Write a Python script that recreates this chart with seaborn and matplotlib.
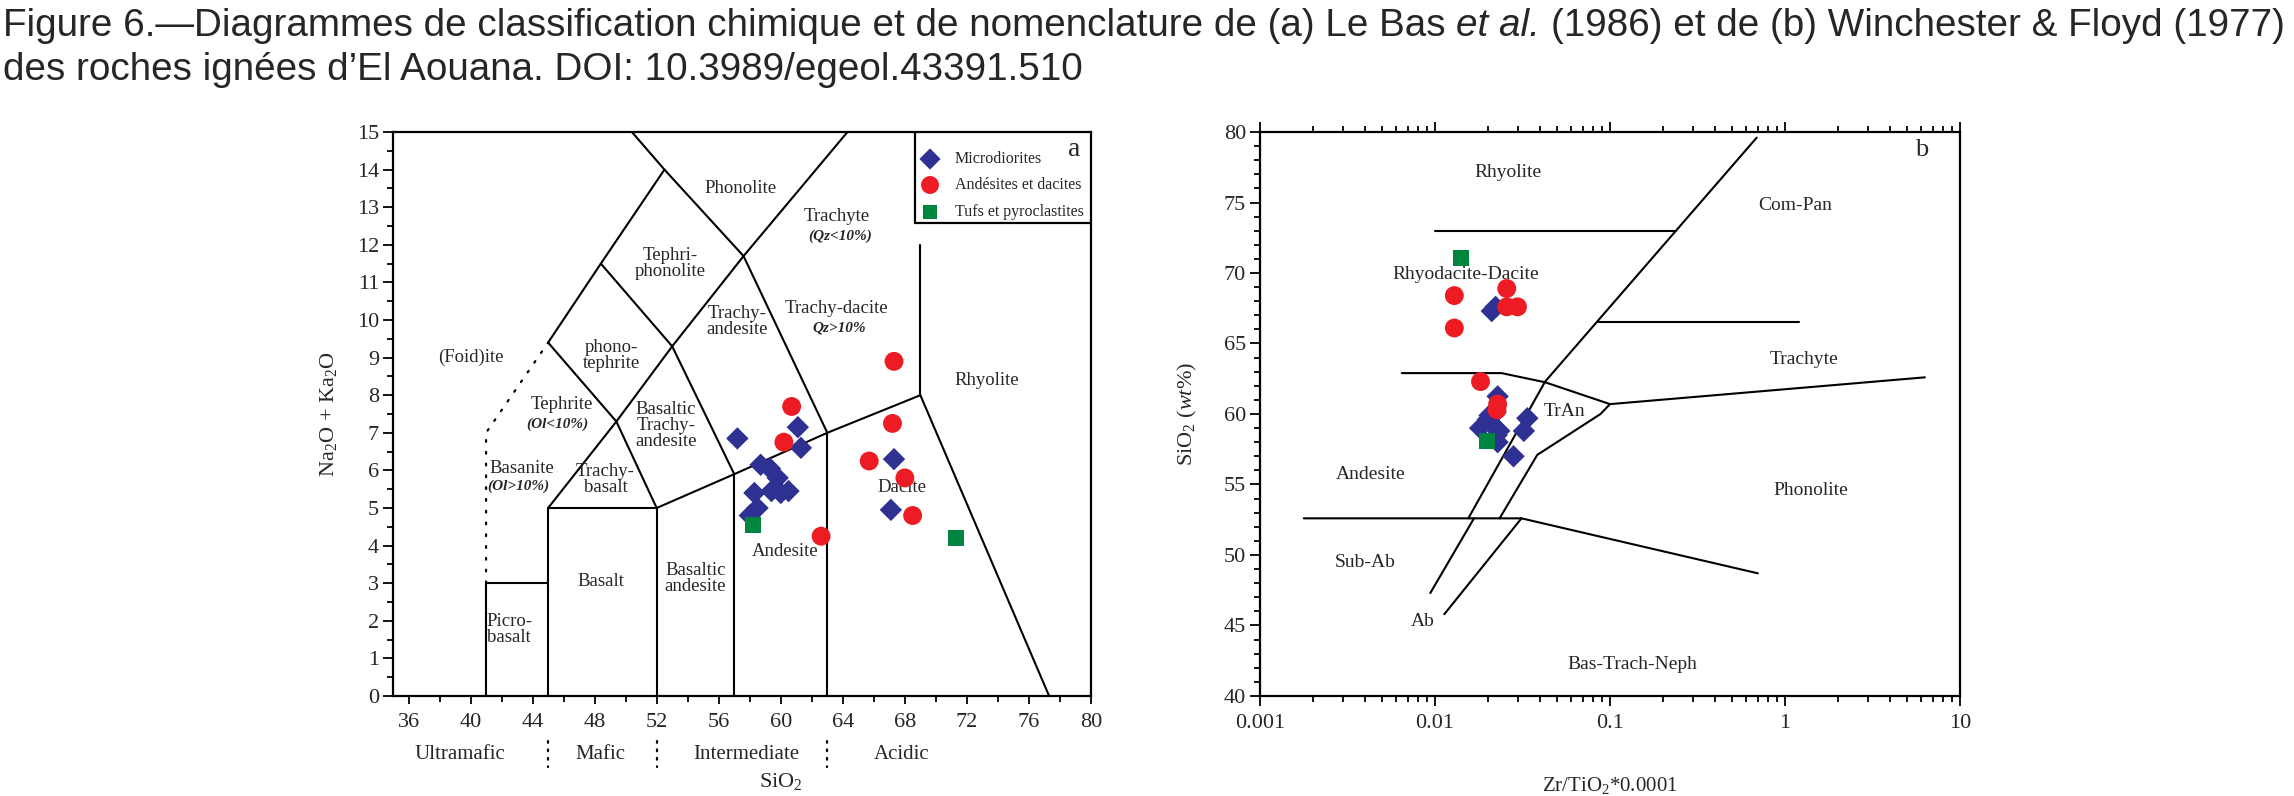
import matplotlib
matplotlib.use('Agg')
import matplotlib.pyplot as plt
import matplotlib.transforms as mtransforms
from matplotlib.ticker import MultipleLocator, FixedLocator, FixedFormatter, NullFormatter
from matplotlib.patches import Rectangle
import seaborn as sns

# ---- données (a) : diagramme TAS, Le Bas et al. (1986)
tas_micro_sio2 = [57.2, 61.1, 61.3, 58.7, 59.3, 59.8, 59.4, 60.0, 60.5, 58.5, 58.0, 58.3, 67.3, 67.1]
tas_micro_alk = [6.85, 7.15, 6.6, 6.15, 6.05, 5.8, 5.45, 5.4, 5.45, 5.0, 4.8, 5.4, 6.3, 4.95]
tas_andes_sio2 = [60.7, 60.2, 67.3, 67.2, 65.7, 68.0, 68.5, 62.6]
tas_andes_alk = [7.7, 6.75, 8.9, 7.25, 6.25, 5.8, 4.8, 4.25]
tas_tufs_sio2 = [58.2, 71.3]
tas_tufs_alk = [4.55, 4.2]

# ---- données (b) : Winchester & Floyd (1977)
wf_micro_zr = [0.0211, 0.0222, 0.0228, 0.0200, 0.0222, 0.0181, 0.0233, 0.0228, 0.0281, 0.0337, 0.0322, 0.0205, 0.0215, 0.0225]
wf_micro_si = [67.3, 67.6, 61.25, 59.6, 60.1, 59.0, 58.8, 58.0, 57.0, 59.7, 58.8, 59.9, 59.2, 58.5]
wf_andes_zr = [0.0129, 0.0129, 0.0257, 0.0257, 0.0296, 0.0182, 0.0228, 0.0226]
wf_andes_si = [68.4, 66.1, 68.9, 67.6, 67.6, 62.3, 60.7, 60.3]
wf_tufs_zr = [0.0141, 0.0198]
wf_tufs_si = [71.05, 58.1]

groupes = ['Microdiorites', 'Andésites et dacites', 'Tufs et pyroclastites']
couleurs = ['#2e3192', '#ed1c24', '#00853f']
marqueurs = ['D', 'o', 's']
tailles = [130, 185, 125]

# limites des champs TAS
tas_lignes = [
    [(41, 0), (41, 3), (45, 3)],
    [(45, 0), (45, 5), (52, 5), (52, 0)],
    [(52, 5), (57, 5.9), (63, 7), (69, 8), (77.3, 0)],
    [(57, 0), (57, 5.9)],
    [(63, 0), (63, 7)],
    [(69, 8), (69, 12)],
    [(45, 5), (49.4, 7.3), (53, 9.3), (57.6, 11.7), (64.3, 15)],
    [(45, 9.4), (49.4, 7.3), (52, 5)],
    [(48.4, 11.5), (53, 9.3), (57, 5.9)],
    [(50.4, 15), (52.5, 14), (57.6, 11.7), (63, 7)],
    [(45, 9.4), (48.4, 11.5), (52.5, 14)],
]
tas_pointilles = [(41, 3), (41, 7), (45, 9.4)]

tas_noms = [
    ('(Foid)ite', 40.0, 9.0), ('Tephrite', 45.9, 7.75), ('Basanite', 43.3, 6.05),
    ('phono-\ntephrite', 49.1, 9.05), ('Tephri-\nphonolite', 52.9, 11.5),
    ('Phonolite', 57.4, 13.5), ('Trachy-\nandesite', 57.2, 9.95),
    ('Basaltic\nTrachy-\nandesite', 52.6, 7.2), ('Trachy-\nbasalt', 48.7, 5.75),
    ('Basalt', 48.4, 3.05), ('Picro-\nbasalt', 42.5, 1.77), ('Basaltic\nandesite', 54.5, 3.12),
    ('Andesite', 60.3, 3.85), ('Dacite', 67.8, 5.55), ('Trachyte', 63.6, 12.75),
    ('Trachy-dacite', 63.6, 10.3), ('Rhyolite', 73.3, 8.4),
]
tas_notes = [('(Ol<10%)', 45.6, 7.22), ('(Ol>10%)', 43.1, 5.58),
             ('(Qz<10%)', 63.8, 12.22), ('Qz>10%', 63.8, 9.78)]

classes = [('Ultramafic', 39.3), ('Mafic', 48.4), ('Intermediate', 57.8), ('Acidic', 67.8)]
coupures = [45, 52, 63]

wf_lignes = [
    [(0.01, 73.0), (0.238, 73.0)],
    [(0.0155, 52.6), (0.0426, 62.3), (0.689, 79.6)],
    [(0.0167, 52.6), (0.0094, 47.3)],
    [(0.0234, 52.6), (0.0384, 57.1), (0.0883, 60.0), (0.1, 60.7)],
    [(0.0312, 52.6), (0.0113, 45.8)],
    [(0.084, 66.5), (1.2, 66.5)],
    [(0.00646, 62.9), (0.024, 62.9), (0.0426, 62.25), (0.1, 60.7), (6.3, 62.6)],
    [(0.00178, 52.6), (0.0312, 52.6), (0.7, 48.7)],
]
wf_noms = [
    ('Rhyolite', 0.026, 77.1, 'center'), ('Rhyodacite-Dacite', 0.015, 69.9, 'center'),
    ('Com-Pan', 0.70, 74.8, 'left'), ('Trachyte', 0.82, 63.9, 'left'),
    ('TrAn', 0.055, 60.2, 'center'), ('Andesite', 0.0043, 55.7, 'center'),
    ('Sub-Ab', 0.004, 49.45, 'center'), ('Ab', 0.0085, 45.3, 'center'),
    ('Phonolite', 1.4, 54.6, 'center'), ('Bas-Trach-Neph', 0.134, 42.2, 'center'),
]

sns.set_style('ticks')
plt.rcParams['font.family'] = ['Liberation Serif', 'DejaVu Serif']
plt.rcParams['mathtext.fontset'] = 'custom'
plt.rcParams['mathtext.rm'] = 'Liberation Serif'
plt.rcParams['mathtext.it'] = 'Liberation Serif:italic'
plt.rcParams['mathtext.bf'] = 'Liberation Serif:bold'

W, H = 2294, 796
fig = plt.figure(figsize=(W / 100, H / 100), dpi=100)
renderer = fig.canvas.get_renderer()

# ---- titre (deux lignes, police sans empattement)
ligne1 = [('Figure 6.—Diagrammes de classification chimique et de nomenclature de (a) Le Bas', 'normal'),
          ('et al.', 'italic'),
          ('(1986) et de (b) Winchester & Floyd (1977)', 'normal')]
ligne2 = [('des roches ignées d’El Aouana. DOI: 10.3989/egeol.43391.510', 'normal')]


def largeur(txt, taille, style):
    t = fig.text(0, 0, txt, fontsize=taille, fontstyle=style, family='Liberation Sans')
    w = t.get_window_extent(renderer).width
    t.remove()
    return w


def ecrire(morceaux, y_px, taille):
    esp = largeur('a a', taille, 'normal') - largeur('aa', taille, 'normal')
    x = 3.0
    for txt, style in morceaux:
        t = fig.text(x / W, 1 - y_px / H, txt, fontsize=taille, fontstyle=style,
                     family='Liberation Sans', va='baseline', ha='left')
        x = t.get_window_extent(renderer).x1 + esp


base = 24
esp0 = largeur('a a', base, 'normal') - largeur('aa', base, 'normal')
tot = sum(largeur(t, base, s) for t, s in ligne1) + 2 * esp0
taille_titre = base * 2284 / tot
ecrire(ligne1, 36, taille_titre)
ecrire(ligne2, 80, taille_titre)

# ---- axes
bas = (H - 696) / H
haut = (696 - 132) / H
axa = fig.add_axes([393 / W, bas, (1091 - 393) / W, haut])
axb = fig.add_axes([1260 / W, bas, (1960 - 1260) / W, haut])

for ax in (axa, axb):
    for sp in ax.spines.values():
        sp.set_linewidth(1.6)
        sp.set_color('black')
        sp.set_visible(True)

# ---- (a) TAS
for seg in tas_lignes:
    axa.plot([p[0] for p in seg], [p[1] for p in seg], color='black', lw=1.5, zorder=2)
axa.plot([p[0] for p in tas_pointilles], [p[1] for p in tas_pointilles], color='black',
         lw=1.6, ls=(0, (0.8, 4.5)), dash_capstyle='round', zorder=2)

for nom, x, y in tas_noms:
    axa.text(x, y, nom, ha='center', va='center', fontsize=13.5, linespacing=0.92, zorder=2)
for nom, x, y in tas_notes:
    axa.text(x, y, nom, ha='center', va='center', fontsize=11, style='italic',
             weight='bold', zorder=2)

tas_x = [tas_micro_sio2, tas_andes_sio2, tas_tufs_sio2]
tas_y = [tas_micro_alk, tas_andes_alk, tas_tufs_alk]
for i in range(3):
    sns.scatterplot(x=tas_x[i], y=tas_y[i], ax=axa, marker=marqueurs[i], s=tailles[i],
                    color=couleurs[i], edgecolor='none', linewidth=0, zorder=4)

axa.set_xlim(35, 80)
axa.set_ylim(0, 15)
axa.xaxis.set_major_locator(FixedLocator(list(range(36, 81, 4))))
axa.xaxis.set_minor_locator(FixedLocator(list(range(38, 80, 4))))
axa.yaxis.set_major_locator(MultipleLocator(1))
axa.yaxis.set_minor_locator(MultipleLocator(0.5))
axa.tick_params(axis='both', which='both', direction='out', width=1.3, color='black',
                labelsize=16, top=False, right=False)
axa.tick_params(axis='y', which='major', length=7, pad=3)
axa.tick_params(axis='y', which='minor', length=4.5)
axa.tick_params(axis='x', which='major', length=6, pad=6)
axa.tick_params(axis='x', which='minor', length=4)

axa.set_ylabel('Na$_2$O + Ka$_2$O', fontsize=16, va='center')
axa.yaxis.set_label_coords(-0.092, 0.5)
axa.set_xlabel('SiO$_2$', fontsize=16, va='center')
axa.xaxis.set_label_coords((60 - 35) / 45, -0.152)

trans = mtransforms.blended_transform_factory(axa.transData, axa.transAxes)
for nom, x in classes:
    axa.text(x, -0.103, nom, transform=trans, ha='center', va='center', fontsize=15)
for x in coupures:
    axa.plot([x, x], [-0.08, -0.125], transform=trans, color='black', lw=1.6,
             ls=(0, (0.8, 3.0)), dash_capstyle='round', clip_on=False)

# légende en haut à droite
lx0 = (915 - 393) / (1091 - 393)
ly0 = (696 - 223) / (696 - 132)
axa.add_patch(Rectangle((lx0, ly0), 1 - lx0, 1 - ly0, transform=axa.transAxes,
                        facecolor='white', edgecolor='black', lw=1.6, zorder=5))
rangs = [159, 185, 212]
for i in range(3):
    yy = (696 - rangs[i]) / (696 - 132)
    axa.scatter([(930 - 393) / (1091 - 393)], [yy], transform=axa.transAxes,
                marker=marqueurs[i], s=tailles[i] * 0.9, color=couleurs[i],
                edgecolor='none', zorder=6, clip_on=False)
    axa.text((955 - 393) / (1091 - 393), yy, groupes[i], transform=axa.transAxes,
             ha='left', va='center', fontsize=11.5, zorder=6)
axa.text((1074 - 393) / (1091 - 393), (696 - 150) / (696 - 132), 'a', transform=axa.transAxes,
         ha='center', va='center', fontsize=20, zorder=6)

# ---- (b) Winchester & Floyd
for seg in wf_lignes:
    axb.plot([p[0] for p in seg], [p[1] for p in seg], color='black', lw=1.5, zorder=2)
for nom, x, y, ha in wf_noms:
    axb.text(x, y, nom, ha=ha, va='center', fontsize=14, zorder=2)
axb.text(6.0, 78.7, 'b', ha='center', va='center', fontsize=19, zorder=2)

wf_x = [wf_micro_zr, wf_andes_zr, wf_tufs_zr]
wf_y = [wf_micro_si, wf_andes_si, wf_tufs_si]
for i in range(3):
    sns.scatterplot(x=wf_x[i], y=wf_y[i], ax=axb, marker=marqueurs[i], s=tailles[i],
                    color=couleurs[i], edgecolor='none', linewidth=0, zorder=4)

axb.set_xscale('log')
axb.set_xlim(0.001, 10)
axb.set_ylim(40, 80)
axb.xaxis.set_major_locator(FixedLocator([0.001, 0.01, 0.1, 1, 10]))
axb.xaxis.set_major_formatter(FixedFormatter(['0.001', '0.01', '0.1', '1', '10']))
mins = [m * 10.0 ** e for e in range(-3, 1) for m in range(2, 10)]
axb.xaxis.set_minor_locator(FixedLocator(mins))
axb.xaxis.set_minor_formatter(NullFormatter())
axb.yaxis.set_major_locator(MultipleLocator(5))
axb.yaxis.set_minor_locator(MultipleLocator(1))
axb.tick_params(axis='both', which='both', direction='out', width=1.3, color='black',
                labelsize=16, right=False)
axb.tick_params(axis='x', which='both', top=True, bottom=True, labeltop=False)
axb.tick_params(axis='both', which='major', length=7, pad=3)
axb.tick_params(axis='both', which='minor', length=4)
axb.tick_params(axis='x', which='major', pad=6)

axb.set_ylabel('SiO$_2$ ($\\mathit{wt\\%}$)', fontsize=16, va='center')
axb.yaxis.set_label_coords(-0.103, 0.5)
axb.set_xlabel('Zr/TiO$_2$*0.0001', fontsize=15, va='center')
axb.xaxis.set_label_coords(0.5, -0.158)

fig.savefig('out.png', dpi=100)
